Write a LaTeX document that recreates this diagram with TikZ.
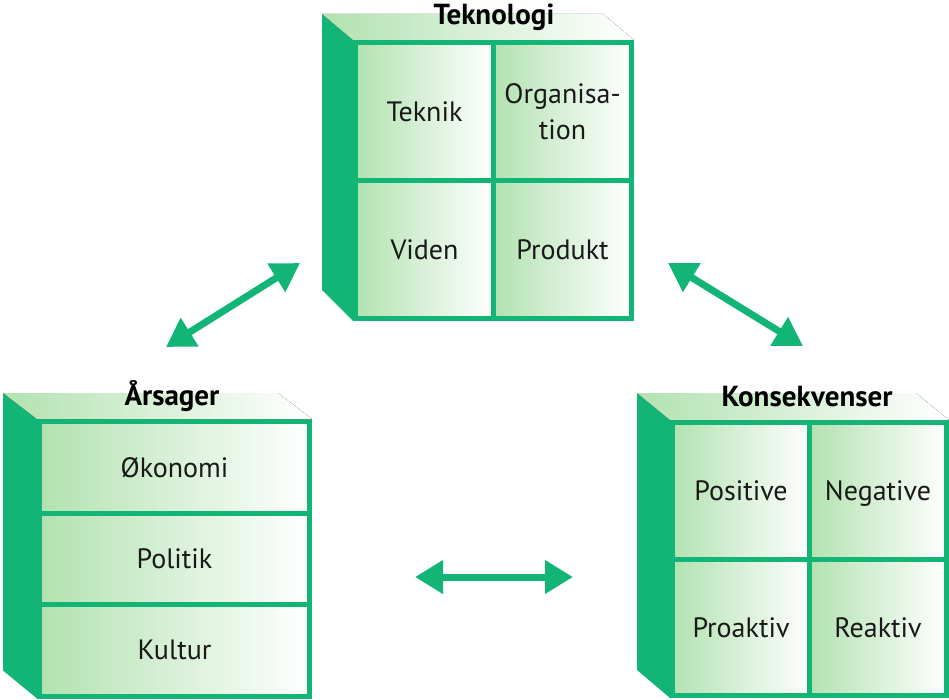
\documentclass[tikz,border=0pt]{standalone}
\usepackage{fontspec}
\setmainfont{PT Sans}
\usepackage{tikz}
\usetikzlibrary{calc,arrows.meta}
\definecolor{boxgreen}{RGB}{19,181,118}
\definecolor{lightgreen}{RGB}{178,226,176}

\begin{document}
\begin{tikzpicture}[x=1pt,y=-1pt,>={Triangle[width=32pt,length=28pt]},node distance=138pt,
		cell/.style={draw=boxgreen,line width=5pt,left color=lightgreen,right color=white,minimum width=138pt,minimum height=138pt,inner sep=0pt,align=center,text=black!90,font=\fontsize{28}{36}\selectfont},
		kcell/.style={cell,minimum width=137pt,minimum height=136.5pt,text height=20pt,text depth=0pt},
		row/.style={cell,minimum width=270pt,minimum height=91.5pt},
		title/.style={anchor=base,text=black,font=\fontsize{29}{34}\selectfont\bfseries},
		link/.style={<->,draw=boxgreen,fill=boxgreen,line width=7pt}]
		\useasboundingbox (0,0) rectangle (949,700);
		
		% Teknologi
		\node[cell] (t1) at (424.5,111.5) {Teknik};
		\node[cell] (t2) [right of=t1] {Organisa-\\tion};
		\node[cell] (t3) [below of=t1] {Viden};
		\node[cell] (t4) [right of=t3] {Produkt};
		\fill[boxgreen] (t1.north west) -- ++(-31,-26) -- ($(t3.south west)+(-31,-31)$) -- (t3.south west) -- cycle;
		\fill[left color=lightgreen,right color=white] (t1.north west) -- ++(-31,-26) -- ($(t2.north east)+(-31,-26)$) -- (t2.north east) -- cycle;
		\node[title] (ttek) at (494,25) {Teknologi};
		
		% Aarsager
		\node[row] (a1) at (174.5,467.25) {Økonomi};
		\node[row,node distance=91.5pt] (a2) [below of=a1] {Politik};
		\node[row,node distance=91.5pt] (a3) [below of=a2] {Kultur};
		\fill[boxgreen] (a1.north west) -- ++(-34,-26) -- ($(a3.south west)+(-34,-28)$) -- (a3.south west) -- cycle;
		\fill[left color=lightgreen,right color=white] (a1.north west) -- ++(-34,-26) -- ($(a1.north east)+(-34,-26)$) -- (a1.north east) -- cycle;
		\node[title] (tars) at (172,405) {Årsager};
		
		% Konsekvenser
		\node[kcell] (k1) at (741,490.75) {Positive};
		\node[kcell,node distance=137pt] (k2) [right of=k1] {Negative};
		\node[kcell,node distance=136.5pt] (k3) [below of=k1] {Proaktiv};
		\node[kcell,node distance=137pt] (k4) [right of=k3] {Reaktiv};
		\fill[boxgreen] (k1.north west) -- ++(-33,-27) -- ($(k3.south west)+(-33,-28)$) -- (k3.south west) -- cycle;
		\fill[left color=lightgreen,right color=white] (k1.north west) -- ++(-33,-27) -- ($(k2.north east)+(-33,-27)$) -- (k2.north east) -- cycle;
		\node[title] (tkon) at (807,406) {Konsekvenser};
		
		% pile
		\coordinate (l1) at (166,347);
		\coordinate (l2) at (300,263);
		\coordinate (r1) at (668,263);
		\coordinate (r2) at (803,346);
		\coordinate (b1) at (415,577);
		\coordinate (b2) at (573,577);
		\draw[link] (l1) -- (l2);
		\draw[link] (r1) -- (r2);
		\draw[link] (b1) -- (b2);
\end{tikzpicture}
\end{document}
